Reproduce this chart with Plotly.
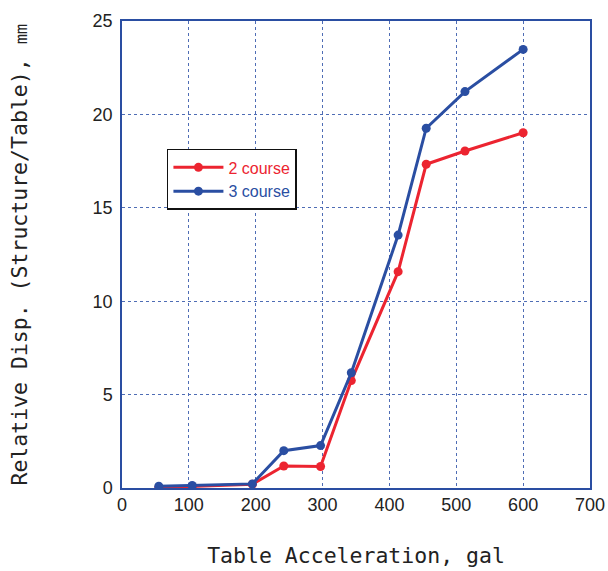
import plotly.graph_objects as go

accel = [55, 105, 195, 242, 297, 343, 413, 455, 513, 600]
course2 = [0.02, 0.08, 0.2, 1.18, 1.15, 5.75, 11.58, 17.33, 18.04, 19.02]
course3 = [0.1, 0.14, 0.22, 2.0, 2.27, 6.17, 13.54, 19.26, 21.22, 23.48]
x_ticks = [0, 100, 200, 300, 400, 500, 600, 700]
y_ticks = [0, 5, 10, 15, 20, 25]

RED = "#ec2430"
BLUE = "#2a4ea2"
FRAME = "#2a4ea2"
GRID = "#4f6db5"

fig = go.Figure()
fig.add_trace(go.Scatter(
    x=accel, y=course2, mode="lines+markers",
    name=f"<span style='color:{RED}'>2 course</span>",
    line=dict(color=RED, width=3), marker=dict(color=RED, size=9)))
fig.add_trace(go.Scatter(
    x=accel, y=course3, mode="lines+markers",
    name=f"<span style='color:{BLUE}'>3 course</span>",
    line=dict(color=BLUE, width=3), marker=dict(color=BLUE, size=9)))

tick_font = dict(family="Liberation Sans, Arial, sans-serif", size=18, color="#222222")
title_font = dict(family="DejaVu Sans Mono, monospace", size=21.5, color="#222222")

fig.update_layout(
    width=608, height=571,
    margin=dict(l=122, r=18, t=21, b=83, autoexpand=False),
    paper_bgcolor="white", plot_bgcolor="white",
    showlegend=True,
    legend=dict(
        x=0.096, y=0.726, xanchor="left", yanchor="top",
        bgcolor="white", bordercolor="#111111", borderwidth=1.5,
        font=dict(family="Liberation Sans, Arial, sans-serif", size=16),
        tracegroupgap=0, itemwidth=50,
    ),
    xaxis=dict(
        range=[0, 700], tickvals=x_ticks, ticktext=[str(v) for v in x_ticks],
        showline=True, linecolor=FRAME, linewidth=1.5, mirror=True,
        showgrid=True, gridcolor=GRID, griddash="dot", gridwidth=1,
        zeroline=False, ticks="", tickfont=tick_font, automargin=False,
        title=dict(text="Table Acceleration, gal", font=title_font, standoff=34),
    ),
    yaxis=dict(
        range=[0, 25], tickvals=y_ticks, ticktext=[str(v) for v in y_ticks],
        showline=True, linecolor=FRAME, linewidth=1.5, mirror=True,
        showgrid=True, gridcolor=GRID, griddash="dot", gridwidth=1,
        zeroline=False, ticks="", tickfont=tick_font, ticklabelstandoff=4,
        automargin=False,
        title=dict(text="Relative Disp. (Structure/Table), ㎜", font=title_font, standoff=59),
    ),
)

# remove the default 8px page margin so the 608x571 figure fills the window
fig.write_html("out.html", config={"displayModeBar": False},
               post_script="document.body.style.margin='0px';")
